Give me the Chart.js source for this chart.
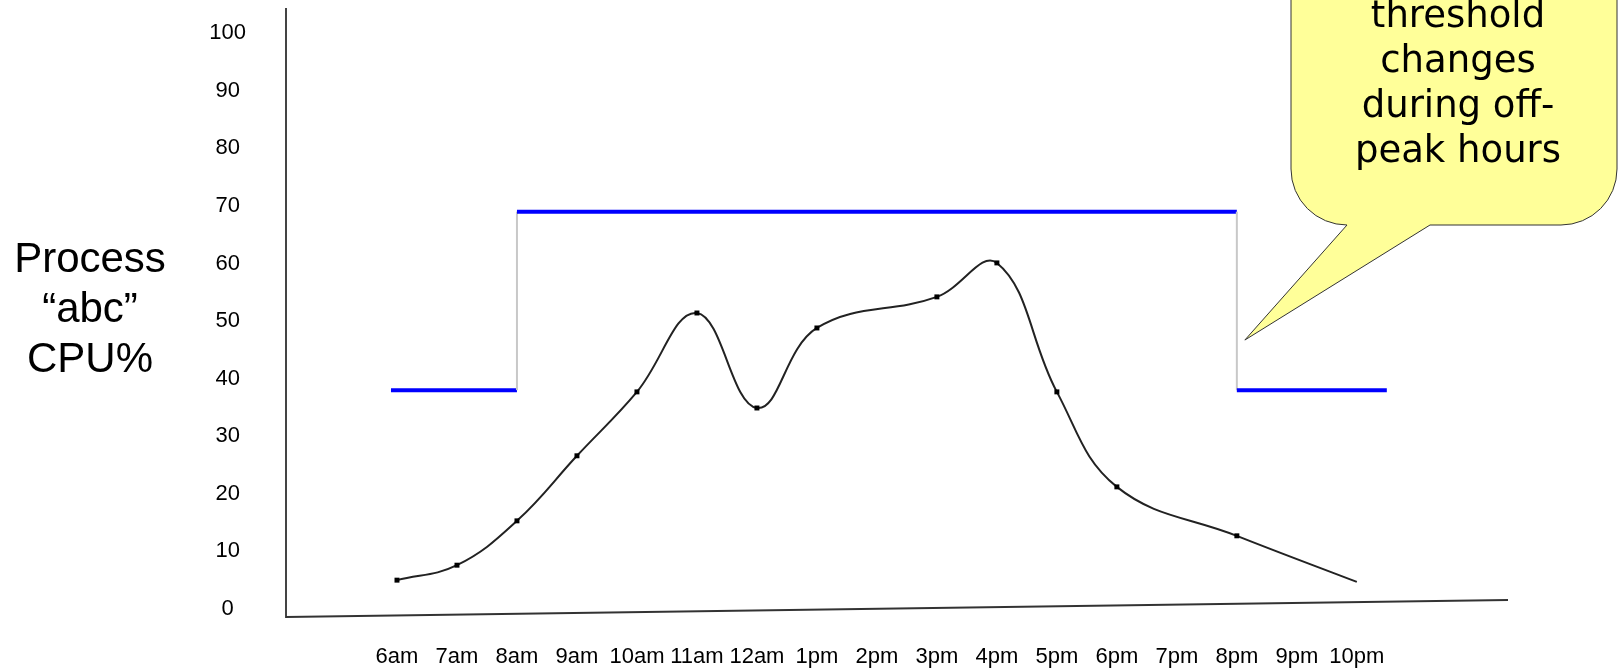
<!DOCTYPE html>
<html>
<head>
<meta charset="utf-8">
<script src="https://cdn.jsdelivr.net/npm/chart.js@4.4.1/dist/chart.umd.min.js"></script>
<style>
  html, body { margin: 0; padding: 0; background: #ffffff; }
  #wrap { position: relative; width: 1618px; height: 669px; }
</style>
</head>
<body>
<div id="wrap"><canvas id="chart"></canvas></div>
<script>
// Hourly samples of the process CPU usage
const hourLabels = ['6am', '7am', '8am', '9am', '10am', '11am', '12am', '1pm', '2pm', '3pm', '4pm', '5pm', '6pm', '7pm', '8pm', '9pm', '10pm'];
const firstHour = 6;
const cpuPercent = [5, 7.6, 15.3, 26.6, 37.7, 51.4, 34.9, 48.8, null, 54.2, 60.1, 37.7, 21.2, null, 12.7, null, 4.7];

// Alert threshold schedule: lower off-peak, raised 8am-8pm
const thresholdHours = [5.9, 8, 8, 20, 20, 22.5];
const thresholdLevels = [38, 38, 69, 69, 38, 38];

const yTickValues = [0, 10, 20, 30, 40, 50, 60, 70, 80, 90, 100];
const yTitleLines = ['Process', '\u201Cabc\u201D', 'CPU%'];
const calloutLines = ['threshold', 'changes', 'during off-', 'peak hours'];

const SANS = '"Liberation Sans", Arial, sans-serif';
Chart.defaults.font.family = SANS;

const decorations = {
  id: 'decorations',
  beforeDatasetsDraw(chart) {
    const { ctx, chartArea: a } = chart;
    ctx.save();
    // hand-drawn style baseline, rising slightly to the right
    ctx.strokeStyle = '#333333';
    ctx.lineWidth = 2;
    ctx.beginPath();
    ctx.moveTo(a.left, a.bottom);
    ctx.lineTo(a.right, a.bottom - 17);
    ctx.stroke();
    ctx.restore();
  },
  afterDraw(chart) {
    const { ctx, scales: { x, y } } = chart;
    ctx.save();

    // horizontal axis title at the left
    ctx.fillStyle = '#000000';
    ctx.font = '42px ' + SANS;
    ctx.textAlign = 'center';
    ctx.textBaseline = 'alphabetic';
    yTitleLines.forEach((t, i) => ctx.fillText(t, 90, 272 + i * 50));

    // speech bubble pointing at the 8pm threshold step
    const left = 1291, right = 1617, top = -20, bottom = 225, r = 56;
    const tipX = x.getPixelForValue(20) + 8;
    const tipY = y.getPixelForValue(46.7);
    ctx.beginPath();
    ctx.moveTo(left + r, bottom);
    ctx.lineTo(tipX, tipY);
    ctx.lineTo(1430, bottom);
    ctx.lineTo(right - r, bottom);
    ctx.arcTo(right, bottom, right, bottom - r, r);
    ctx.lineTo(right, top);
    ctx.lineTo(left, top);
    ctx.lineTo(left, bottom - r);
    ctx.arcTo(left, bottom, left + r, bottom, r);
    ctx.closePath();
    ctx.fillStyle = '#ffff99';
    ctx.fill();
    ctx.strokeStyle = '#333333';
    ctx.lineWidth = 1;
    ctx.stroke();

    ctx.fillStyle = '#000000';
    ctx.font = '37px "DejaVu Sans", Verdana, sans-serif';
    ctx.textAlign = 'center';
    calloutLines.forEach((t, i) => ctx.fillText(t, 1458, 27 + i * 45));
    ctx.restore();
  }
};

const lastIndex = cpuPercent.length - 1;

new Chart(document.getElementById('chart'), {
  type: 'line',
  data: {
    datasets: [
      {
        label: 'Threshold',
        data: thresholdHours.map((h, i) => ({ x: h, y: thresholdLevels[i] })),
        borderColor: '#0000ff',
        borderWidth: 4,
        borderCapStyle: 'butt',
        pointRadius: 0,
        tension: 0,
        segment: {
          borderColor: c => (c.p0.parsed.x === c.p1.parsed.x ? '#c8c8c8' : '#0000ff'),
          borderWidth: c => (c.p0.parsed.x === c.p1.parsed.x ? 2 : 4)
        }
      },
      {
        label: 'CPU%',
        data: cpuPercent.map((v, i) => ({ x: firstHour + i, y: v })),
        borderColor: '#222222',
        borderWidth: 2,
        tension: 0.4,
        spanGaps: true,
        pointStyle: 'rect',
        pointRadius: c => (c.dataIndex === lastIndex ? 0 : 3.5),
        pointBackgroundColor: '#000000',
        pointBorderWidth: 0
      }
    ]
  },
  options: {
    responsive: true,
    maintainAspectRatio: false,
    animation: false,
    events: [],
    layout: { padding: { top: 9, right: 110, bottom: 0, left: 0 } },
    plugins: { legend: { display: false }, tooltip: { enabled: false } },
    scales: {
      x: {
        type: 'linear',
        min: 4.15,
        max: 24.52,
        afterBuildTicks: s => { s.ticks = hourLabels.map((_, i) => ({ value: firstHour + i })); },
        ticks: {
          autoSkip: false,
          maxRotation: 0,
          padding: 27,
          color: '#000000',
          font: { size: 22 },
          callback: (v, i) => hourLabels[i]
        },
        grid: { display: false, drawTicks: false },
        border: { display: false },
        afterFit: s => { s.height = 52; s.paddingLeft = 0; s.paddingRight = 0; }
      },
      y: {
        min: -1.4,
        max: 104.2,
        afterBuildTicks: s => { s.ticks = yTickValues.map(v => ({ value: v })); },
        ticks: {
          crossAlign: 'center',
          padding: 40,
          color: '#000000',
          font: { size: 22 }
        },
        grid: { display: false, drawTicks: false },
        border: { display: true, color: '#444444', width: 2 },
        afterFit: s => { s.width = 286; s.paddingTop = 0; s.paddingBottom = 0; }
      }
    }
  },
  plugins: [decorations]
});
</script>
</body>
</html>
